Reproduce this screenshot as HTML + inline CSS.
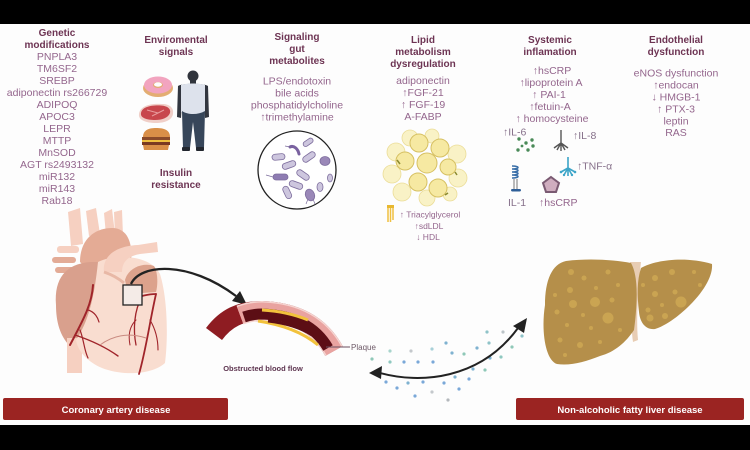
<!DOCTYPE html>
<html><head><meta charset="utf-8"><style>
html,body{margin:0;padding:0;background:#000;}
svg{display:block}
text{font-family:"Liberation Sans",Arial,sans-serif;}
.t{font-weight:bold;font-size:10px;fill:#6d3453;text-anchor:middle}
.i{font-size:10.5px;fill:#94668d;text-anchor:middle}
.s{font-size:10.5px;fill:#86708a}
</style></head><body>
<svg width="750" height="450" viewBox="0 0 750 450" xmlns="http://www.w3.org/2000/svg">
<rect width="750" height="450" fill="#000"/>
<rect x="0" y="24" width="750" height="401" fill="#fdfdfd"/>

<!-- Column 1 -->
<text class="t" x="57" y="36">Genetic</text>
<text class="t" x="57" y="48">modifications</text>
<text class="i" x="57" y="60">PNPLA3</text>
<text class="i" x="57" y="72">TM6SF2</text>
<text class="i" x="57" y="84">SREBP</text>
<text class="i" x="57" y="96">adiponectin rs266729</text>
<text class="i" x="57" y="108">ADIPOQ</text>
<text class="i" x="57" y="120">APOC3</text>
<text class="i" x="57" y="132">LEPR</text>
<text class="i" x="57" y="144">MTTP</text>
<text class="i" x="57" y="156">MnSOD</text>
<text class="i" x="57" y="168">AGT rs2493132</text>
<text class="i" x="57" y="180">miR132</text>
<text class="i" x="57" y="192">miR143</text>
<text class="i" x="57" y="204">Rab18</text>

<!-- Column 2 -->
<text class="t" x="176" y="43">Enviromental</text>
<text class="t" x="176" y="55">signals</text>
<ellipse cx="158" cy="88" rx="15" ry="9" fill="#e3ad72"/>
<ellipse cx="158" cy="85" rx="14" ry="8.5" fill="#f2a4bf"/>
<ellipse cx="158" cy="85" rx="5" ry="3" fill="#e3ad72"/>
<ellipse cx="158" cy="84.5" rx="4" ry="2.2" fill="#fdfdfd"/>
<path d="M139 114 C140 106,150 103,162 104 C170 104,174 108,173 114 C172 120,165 123,156 123 C146 123,138 120,139 114 Z" fill="#f0cfc8"/>
<path d="M141 113 C142 107,151 105,161 105.5 C168 106,171 109,170 113 C168 118,162 120,155 120 C147 120,140 118,141 113 Z" fill="#c8464c"/>
<path d="M147 110 L158 113 M152 116 L164 110" stroke="#e89a9c" stroke-width="1"/>
<path d="M143 137 C143 130,149 128,156 128 C164 128,170 130,170 137 Z" fill="#d98f48"/>
<rect x="142" y="137" width="28" height="3" fill="#8a4a2a"/>
<rect x="142" y="140" width="28" height="2" fill="#f0c040"/>
<rect x="142" y="142" width="28" height="3" fill="#7a3a22"/>
<path d="M143 145 L169 145 L168 150 L144 150 Z" fill="#d98f48"/>
<circle cx="193" cy="76" r="5.5" fill="#30343c"/>
<rect x="190" y="80" width="6" height="4" fill="#30343c"/>
<path d="M178 86 C182 83,204 83,208 86 L209 117 L205 118 L204 100 L182 100 L181 118 L177 117 Z" fill="#32363f"/>
<path d="M181 85 C186 83,200 83,205 85 L205 112 C198 116,188 116,181 112 Z" fill="#dde2ec"/>
<path d="M182 111 C188 115,198 115,205 111 L204 148 L196 148 L193 122 L190 148 L183 148 Z" fill="#37465a"/>
<rect x="182" y="147" width="8" height="4" rx="1" fill="#22262e"/>
<rect x="196" y="147" width="8" height="4" rx="1" fill="#22262e"/>
<text class="t" x="176" y="176">Insulin</text>
<text class="t" x="176" y="188">resistance</text>

<!-- Column 3 -->
<text class="t" x="297" y="40">Signaling</text>
<text class="t" x="297" y="52">gut</text>
<text class="t" x="297" y="64">metabolites</text>
<text class="i" x="297" y="84.5">LPS/endotoxin</text>
<text class="i" x="297" y="96.5">bile acids</text>
<text class="i" x="297" y="108.5">phosphatidylcholine</text>
<text class="i" x="297" y="120.5">↑trimethylamine</text>
<circle cx="297" cy="170" r="39" fill="#fff" stroke="#222" stroke-width="1.3"/>
<g stroke="#7c6c9c" stroke-width="0.8">
<rect x="272" y="154" width="13" height="6" rx="3" fill="#cdc6de" transform="rotate(-5 278 157)"/>
<rect x="303" y="140" width="11" height="5" rx="2.5" fill="#cdc6de" transform="rotate(-35 308 143)"/>
<rect x="302" y="154" width="14" height="6" rx="3" fill="#cdc6de" transform="rotate(-35 309 157)"/>
<rect x="282" y="162" width="14" height="6" rx="3" fill="#cdc6de" transform="rotate(-20 289 165)"/>
<rect x="296" y="172" width="14" height="6" rx="3" fill="#cdc6de" transform="rotate(35 303 175)"/>
<rect x="273" y="174" width="15" height="6" rx="3" fill="#8e7cb2"/>
<rect x="289" y="182" width="14" height="6" rx="3" fill="#cdc6de" transform="rotate(20 296 185)"/>
<rect x="281" y="189" width="13" height="6" rx="3" fill="#cdc6de" transform="rotate(65 287 192)"/>
<ellipse cx="325" cy="161" rx="5" ry="4.5" fill="#9a88b8"/>
<ellipse cx="310" cy="195" rx="4.5" ry="6" fill="#9a88b8" transform="rotate(-20 310 195)"/>
<ellipse cx="320" cy="187" rx="3" ry="4.5" fill="#cdc6de"/>
<ellipse cx="330" cy="178" rx="2.5" ry="4" fill="#cdc6de"/>
</g>
<path d="M290 147 C294 145,298 149,299 154" stroke="#7a62a0" stroke-width="3" fill="none" stroke-linecap="round"/>
<path d="M290 147 L285 146 M273 177 L266 175 M308 199 L306 204 M313 199 L315 204" stroke="#7c6c9c" stroke-width="0.7" fill="none"/>

<!-- Column 4 -->
<text class="t" x="423" y="43">Lipid</text>
<text class="t" x="423" y="55">metabolism</text>
<text class="t" x="423" y="67">dysregulation</text>
<text class="i" x="423" y="84">adiponectin</text>
<text class="i" x="423" y="96">↑FGF-21</text>
<text class="i" x="423" y="108">↑ FGF-19</text>
<text class="i" x="423" y="120">A-FABP</text>
<g fill="#f9f2c6" stroke="#ebdd98" stroke-width="0.8">
<circle cx="410" cy="138" r="8"/>
<circle cx="432" cy="136" r="7"/>
<circle cx="396" cy="152" r="9"/>
<circle cx="457" cy="154" r="9"/>
<circle cx="392" cy="174" r="9"/>
<circle cx="458" cy="178" r="9"/>
<circle cx="402" cy="192" r="9"/>
<circle cx="427" cy="198" r="8"/>
<circle cx="450" cy="194" r="7"/>
</g>
<g fill="#f6e9a2" stroke="#d6c062" stroke-width="1">
<circle cx="419" cy="143" r="9"/>
<circle cx="440" cy="148" r="9"/>
<circle cx="405" cy="161" r="9"/>
<circle cx="427" cy="163" r="10"/>
<circle cx="448" cy="167" r="8"/>
<circle cx="418" cy="182" r="9"/>
<circle cx="438" cy="188" r="9"/>
</g>
<path d="M397 160 l3 4 M445 195 l3 -2 M455 172 l2 3" stroke="#8a8a30" stroke-width="1.5"/>
<rect x="387" y="205" width="7" height="3" fill="#e8b830"/>
<path d="M388 208 L388 222 M390.5 208 L390.5 222 M393 208 L393 220" stroke="#f0c040" stroke-width="1.5"/>
<text class="i" x="430" y="217.5" style="font-size:8.5px">↑ Triacylglycerol</text>
<text class="i" x="429" y="229" style="font-size:8.5px">↑sdLDL</text>
<text class="i" x="428" y="240" style="font-size:8.5px">↓ HDL</text>

<!-- Column 5 -->
<text class="t" x="550" y="43">Systemic</text>
<text class="t" x="550" y="55">inflamation</text>
<text class="i" x="552" y="74">↑hsCRP</text>
<text class="i" x="551" y="86">↑lipoprotein A</text>
<text class="i" x="549" y="98">↑ PAI-1</text>
<text class="i" x="550" y="110">↑fetuin-A</text>
<text class="i" x="552" y="122">↑ homocysteine</text>
<text class="s" x="503" y="135.5">↑IL-6</text>
<g fill="#4a8a58">
<circle cx="519" cy="139" r="1.7"/><circle cx="526" cy="143" r="1.7"/><circle cx="532" cy="140" r="1.7"/>
<circle cx="518" cy="150" r="1.7"/><circle cx="528" cy="150" r="1.7"/><circle cx="533" cy="146" r="1.7"/><circle cx="522" cy="146" r="1.4"/>
</g>
<g stroke="#555" stroke-width="1.4" fill="none">
<path d="M561 130 L561 143 M561 143 L554 148 M561 143 L557 150 M561 143 L561 151 M561 143 L565 150 M561 143 L568 148"/>
</g>
<text class="s" x="573" y="139">↑IL-8</text>
<g stroke="#3da5c8" stroke-width="1.6" fill="none">
<path d="M568 157 L568 168 M568 168 L561 172 M568 168 L564 175 M568 168 L568 176 M568 168 L572 175 M568 168 L575 172"/>
</g>
<g fill="#3da5c8"><circle cx="561" cy="172" r="1.3"/><circle cx="575" cy="172" r="1.3"/><circle cx="564" cy="175" r="1.2"/><circle cx="572" cy="175" r="1.2"/></g>
<text class="s" x="577" y="169.5">↑TNF-α</text>
<path d="M512 166 C520 166,520 169,512 169 C520 169,520 172,512 172 C520 172,520 175,512 175 C520 175,520 178,512 178" stroke="#3a6fa8" stroke-width="1.5" fill="none"/>
<path d="M514 179 L514 190 M517 179 L517 190" stroke="#777" stroke-width="1"/>
<rect x="511" y="189" width="10" height="2.5" rx="1.2" fill="#2f5f98"/>
<text class="s" x="508" y="206">IL-1</text>
<polygon points="551,177 559,183 556,192 546,192 543,183" fill="#cfadbf" stroke="#7a5a72" stroke-width="2"/>
<text class="s" x="539" y="206" style="fill:#94668d">↑hsCRP</text>

<!-- Column 6 -->
<text class="t" x="676" y="43">Endothelial</text>
<text class="t" x="676" y="55">dysfunction</text>
<text class="i" x="676" y="76.5">eNOS dysfunction</text>
<text class="i" x="676" y="88.5">↑endocan</text>
<text class="i" x="676" y="100.5">↓ HMGB-1</text>
<text class="i" x="676" y="112.5">↑ PTX-3</text>
<text class="i" x="676" y="124.5">leptin</text>
<text class="i" x="676" y="136">RAS</text>

<!-- Heart -->
<g>
<path d="M68 212 L80 208 L83 244 L71 246 Z" fill="#f6d0c1"/>
<path d="M86 211 L96 208 L100 234 L89 236 Z" fill="#f6d0c1"/>
<path d="M104 213 L112 209 L115 234 L106 235 Z" fill="#f6d0c1"/>
<path d="M114 212 L122 210 L123 236 L115 236 Z" fill="#f6d0c1"/>
<path d="M80 262 C80 238,96 228,112 228 C127 228,133 242,131 262 L110 268 L90 272 Z" fill="#e4ab95"/>
<rect x="52" y="257" width="24" height="6" rx="3" fill="#e3ab96"/>
<rect x="55" y="267" width="22" height="6" rx="3" fill="#e3ab96"/>
<rect x="57" y="246" width="22" height="7" rx="3" fill="#f6d0c1"/>
<path d="M56 305 C54 278,66 264,90 262 L104 262 L104 348 L70 346 C60 336,56 322,56 305 Z" fill="#d9a08d"/>
<rect x="67" y="338" width="15" height="35" fill="#f6d0c1"/>
<path d="M98 262 C114 254,150 254,160 274 C168 300,168 340,165 363 C152 375,122 376,102 368 C88 362,78 352,76 340 C88 322,94 300,98 262 Z" fill="#f9ddd0"/>
<path d="M104 272 C102 256,116 246,138 245 L157 242 L158 252 L140 254 C128 256,122 262,122 272 Z" fill="#f6d0c1"/>
<path d="M125 280 C128 268,143 262,154 266 C158 272,158 285,156 292 L128 294 Z" fill="#dca28c"/>
<path d="M104 272 C110 274,118 278,124 283" stroke="#e8b8a6" stroke-width="3" fill="none"/>
<g stroke="#a0242a" fill="none" stroke-linecap="round">
<path d="M93 285 C92 305,82 322,70 345" stroke-width="2"/>
<path d="M75 335 C90 340,104 346,118 356" stroke-width="1.4"/>
<path d="M88 310 C95 312,98 318,99 322" stroke-width="1.2"/>
<path d="M80 330 C84 340,84 350,88 358" stroke-width="1.2"/>
<path d="M130 300 C140 296,148 294,156 294" stroke-width="1.8"/>
<path d="M156 294 C150 320,146 350,139 374" stroke-width="1.8"/>
<path d="M142 297 C134 310,133 330,136 345" stroke-width="1.3"/>
<path d="M150 320 C156 330,158 340,158 350" stroke-width="1.1"/>
<path d="M136 320 C130 326,128 335,130 345" stroke-width="1"/>
</g>
<path d="M100 345 C112 336,128 332,146 338" stroke="#c98a80" stroke-width="1" fill="none"/>
<rect x="123" y="285" width="19" height="20" fill="#f4ebe7" stroke="#222" stroke-width="1.3"/>
</g>

<!-- Heart to vessel arrow -->
<path d="M131 284 C140 264,188 260,236 296" stroke="#222" stroke-width="2.3" fill="none"/>
<polygon points="247,305 232,301 240,291" fill="#222"/>

<!-- Vessel -->
<path d="M214 334 C226 318,240 311,262 311 C292 312,318 322,334 351" stroke="#8e1c22" stroke-width="20" fill="none"/>
<path d="M240 315 C248 312,256 311,262 311 C292 312,318 322,334 351" stroke="#f6d4d0" stroke-width="20" fill="none"/>
<path d="M240 315 C248 312,256 311,262 311 C292 312,318 322,334 351" stroke="#e9a3a0" stroke-width="17" fill="none"/>
<path d="M244 317 C250 315,256 314,262 314 C290 315,314 324,328 348" stroke="#5c0e15" stroke-width="11" fill="none"/>
<path d="M262 310 C280 311,296 315,308 320" stroke="#f2c23c" stroke-width="3" fill="none"/>
<path d="M258 321 C278 324,300 330,318 345" stroke="#f2c23c" stroke-width="3" fill="none"/>
<path d="M268 321 C285 323,300 327,312 335" stroke="#5c0e15" stroke-width="3" fill="none"/>
<path d="M326 347 L350 347" stroke="#6a5060" stroke-width="1"/>
<text x="351" y="350" style="font-size:8px;fill:#6e5a68">Plaque</text>
<text x="263" y="371" style="font-size:7.5px;font-weight:bold;fill:#5e3550;text-anchor:middle">Obstructed blood flow</text>

<!-- Particles -->
<g>
<circle cx="487" cy="332" r="1.6" fill="#8fc3c8"/><circle cx="503" cy="332" r="1.6" fill="#bcc4c8"/><circle cx="522" cy="336" r="1.6" fill="#8fc3c8"/>
<circle cx="390" cy="351" r="1.6" fill="#a8d4cc"/><circle cx="411" cy="351" r="1.6" fill="#c4c8cc"/><circle cx="432" cy="349" r="1.6" fill="#a8d0d8"/>
<circle cx="446" cy="343" r="1.6" fill="#7fb2d0"/><circle cx="452" cy="353" r="1.6" fill="#7fb2d0"/><circle cx="464" cy="354" r="1.6" fill="#8fc8b8"/>
<circle cx="477" cy="348" r="1.6" fill="#7fb2d0"/><circle cx="489" cy="343" r="1.6" fill="#8fc3c8"/><circle cx="512" cy="347" r="1.6" fill="#8fc8b8"/>
<circle cx="372" cy="359" r="1.6" fill="#8fc8b8"/><circle cx="390" cy="362" r="1.6" fill="#8fc8c0"/><circle cx="404" cy="362" r="1.6" fill="#7aa8d8"/>
<circle cx="418" cy="362" r="1.6" fill="#7aa8d8"/><circle cx="433" cy="362" r="1.6" fill="#7aa8d8"/><circle cx="490" cy="358" r="1.6" fill="#7fb2d0"/>
<circle cx="501" cy="357" r="1.6" fill="#8fc8c0"/><circle cx="473" cy="369" r="1.6" fill="#7fb2d0"/><circle cx="485" cy="370" r="1.6" fill="#8fc8b8"/>
<circle cx="386" cy="382" r="1.6" fill="#7aa8d8"/><circle cx="408" cy="383" r="1.6" fill="#7fb2d0"/><circle cx="423" cy="382" r="1.6" fill="#7aa8d8"/>
<circle cx="444" cy="383" r="1.6" fill="#7aa8d8"/><circle cx="455" cy="377" r="1.6" fill="#7fb2d0"/><circle cx="469" cy="379" r="1.6" fill="#7aa8d8"/>
<circle cx="397" cy="388" r="1.6" fill="#7aa8d8"/><circle cx="415" cy="396" r="1.6" fill="#7aa8d8"/><circle cx="432" cy="392" r="1.6" fill="#c4c8cc"/>
<circle cx="459" cy="389" r="1.6" fill="#7aa8d8"/><circle cx="448" cy="400" r="1.6" fill="#b4b8bc"/>
</g>
<path d="M380 373 C420 384,480 380,518 328" stroke="#222" stroke-width="2" fill="none"/>
<polygon points="369,373 382,366 381,379" fill="#222"/>
<polygon points="527,318 524,333 513,326" fill="#222"/>

<!-- Liver -->
<path d="M630 262 L641 262 C638 290,636 320,638 340 L633 342 C630 320,632 290,630 262 Z" fill="#e8cdb4"/>
<path d="M545 305 C545 280,552 264,566 261 C590 258,615 260,631 263 C638 275,638 300,634 330 C626 342,615 352,600 356 C585 362,570 366,557 364 C545 360,541 330,545 305 Z" fill="#b58f4a"/>
<path d="M641 268 C655 260,685 256,712 264 C713 275,705 290,690 305 C678 317,665 326,655 329 C645 330,640 322,639 312 C637 295,637 280,641 268 Z" fill="#b58f4a"/>
<g fill="#d4ae56" opacity="0.7">
<circle cx="571" cy="272" r="3"/><circle cx="584" cy="278" r="2.5"/><circle cx="570" cy="290" r="3"/><circle cx="596" cy="288" r="2"/>
<circle cx="608" cy="272" r="2.5"/><circle cx="618" cy="285" r="2"/><circle cx="573" cy="304" r="4"/><circle cx="595" cy="302" r="5"/>
<circle cx="612" cy="300" r="2.5"/><circle cx="608" cy="318" r="5.5"/><circle cx="583" cy="315" r="2"/><circle cx="557" cy="312" r="2.5"/>
<circle cx="567" cy="325" r="2"/><circle cx="591" cy="328" r="2"/><circle cx="620" cy="330" r="2"/><circle cx="560" cy="340" r="2.5"/>
<circle cx="580" cy="345" r="3"/><circle cx="600" cy="342" r="2"/><circle cx="565" cy="355" r="2"/><circle cx="555" cy="295" r="2"/>
<circle cx="655" cy="278" r="3"/><circle cx="672" cy="272" r="3"/><circle cx="694" cy="272" r="2"/><circle cx="655" cy="294" r="3"/>
<circle cx="675" cy="292" r="2.5"/><circle cx="681" cy="302" r="5.5"/><circle cx="648" cy="310" r="2.5"/><circle cx="662" cy="305" r="2"/>
<circle cx="650" cy="318" r="3.5"/><circle cx="665" cy="316" r="3"/><circle cx="700" cy="285" r="2"/><circle cx="643" cy="285" r="2"/>
</g>

<!-- Banners -->
<rect x="3" y="398" width="225" height="22" rx="2" fill="#9b2422"/>
<text x="116" y="413" style="font-size:9.5px;font-weight:bold;fill:#fff;text-anchor:middle">Coronary artery disease</text>
<rect x="516" y="398" width="228" height="22" rx="2" fill="#9b2422"/>
<text x="630" y="413" style="font-size:9.5px;font-weight:bold;fill:#fff;text-anchor:middle">Non-alcoholic fatty liver disease</text>
</svg>
</body></html>
